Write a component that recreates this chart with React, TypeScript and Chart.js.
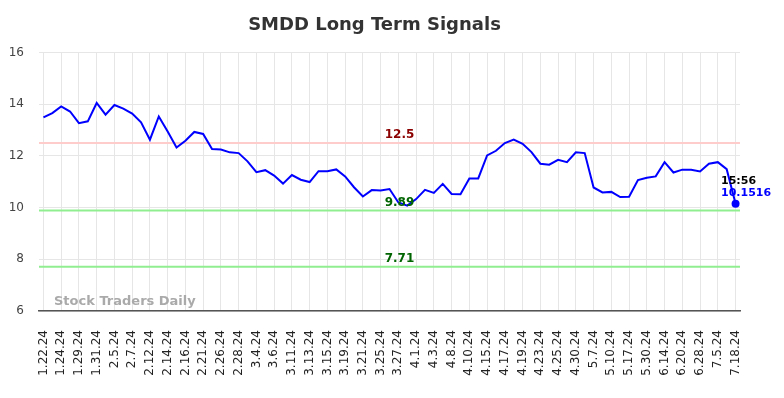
import React, { useEffect, useRef } from "react";
import { Chart, registerables } from "chart.js";

Chart.register(...registerables);

const title = "SMDD Long Term Signals";

const categories = [
  "1.22.24", "1.23.24", "1.24.24", "1.26.24", "1.29.24", "1.30.24", "1.31.24", "2.1.24",
  "2.5.24", "2.6.24", "2.7.24", "2.8.24", "2.12.24", "2.13.24", "2.14.24", "2.15.24",
  "2.16.24", "2.20.24", "2.21.24", "2.22.24", "2.26.24", "2.27.24", "2.28.24", "2.29.24",
  "3.4.24", "3.5.24", "3.6.24", "3.7.24", "3.11.24", "3.12.24", "3.13.24", "3.14.24",
  "3.15.24", "3.18.24", "3.19.24", "3.20.24", "3.21.24", "3.22.24", "3.25.24", "3.26.24",
  "3.27.24", "3.28.24", "4.1.24", "4.2.24", "4.3.24", "4.5.24", "4.8.24", "4.9.24",
  "4.10.24", "4.12.24", "4.15.24", "4.16.24", "4.17.24", "4.18.24", "4.19.24", "4.22.24",
  "4.23.24", "4.24.24", "4.25.24", "4.26.24", "4.30.24", "5.2.24", "5.7.24", "5.8.24",
  "5.10.24", "5.14.24", "5.17.24", "5.22.24", "5.30.24", "6.6.24", "6.14.24", "6.17.24",
  "6.20.24", "6.25.24", "6.28.24", "7.2.24", "7.5.24", "7.11.24", "7.18.24",
];

const prices = [
  13.49, 13.66, 13.92, 13.72, 13.27, 13.34, 14.05, 13.6,
  13.97, 13.83, 13.64, 13.3, 12.63, 13.53, 12.95, 12.33,
  12.59, 12.93, 12.85, 12.27, 12.25, 12.14, 12.11, 11.79,
  11.37, 11.45, 11.24, 10.93, 11.26, 11.08, 10.99, 11.41,
  11.41, 11.48, 11.21, 10.79, 10.43, 10.68, 10.66, 10.72,
  10.2, 10.08, 10.33, 10.69, 10.57, 10.92, 10.53, 10.52,
  11.13, 11.13, 12.02, 12.2, 12.5, 12.63, 12.47, 12.15,
  11.7, 11.66, 11.85, 11.76, 12.14, 12.11, 10.78, 10.59,
  10.61, 10.41, 10.42, 11.07, 11.16, 11.21, 11.76, 11.36,
  11.47, 11.47, 11.4, 11.7, 11.76, 11.49, 10.1516,
];

const resistanceLevels = [12.5];
const supportLevels = [9.89, 7.71];
const lastTime = "15:56";
const lastValueText = "10.1516";
const yTicks = [6, 8, 10, 12, 14, 16];
const watermark = "Stock Traders Daily";

const FONT = "'DejaVu Sans', sans-serif";

const signalsPlugin = {
  id: "signals",
  beforeDatasetsDraw(chart: any) {
    const { ctx, chartArea, scales } = chart;
    const y = scales.y;
    ctx.save();
    const drawLine = (v: number, color: string) => {
      const py = y.getPixelForValue(v);
      ctx.strokeStyle = color;
      ctx.lineWidth = 2;
      ctx.beginPath();
      ctx.moveTo(chartArea.left, py);
      ctx.lineTo(chartArea.right, py);
      ctx.stroke();
    };
    resistanceLevels.forEach((v) => drawLine(v, "rgb(255,204,204)"));
    supportLevels.forEach((v) => drawLine(v, "rgb(144,238,144)"));
    ctx.font = `bold 13px ${FONT}`;
    ctx.fillStyle = "#aaaaaa";
    ctx.textAlign = "left";
    ctx.textBaseline = "middle";
    ctx.fillText(watermark, chartArea.left + 15, chartArea.bottom - 9);
    ctx.restore();
  },
  afterDatasetsDraw(chart: any) {
    const { ctx, chartArea, scales } = chart;
    const y = scales.y;
    const x = scales.x;
    const cx = (chartArea.left + chartArea.right) / 2 + 10;
    ctx.save();
    ctx.font = `bold 12px ${FONT}`;
    ctx.textAlign = "center";
    ctx.textBaseline = "middle";
    resistanceLevels.forEach((v) => {
      ctx.fillStyle = "#8b0000";
      ctx.fillText(String(v), cx, y.getPixelForValue(v) - 8);
    });
    supportLevels.forEach((v) => {
      ctx.fillStyle = "#006400";
      ctx.fillText(String(v), cx, y.getPixelForValue(v) - 8);
    });
    const li = prices.length - 1;
    const px = x.getPixelForValue(li);
    const py = y.getPixelForValue(prices[li]);
    ctx.font = `bold 11px ${FONT}`;
    ctx.textAlign = "left";
    ctx.fillStyle = "#000000";
    ctx.fillText(lastTime, px - 14.5, py - 23);
    ctx.fillStyle = "#0000ff";
    ctx.fillText(lastValueText, px - 14.5, py - 11);
    ctx.beginPath();
    ctx.arc(px, py, 4, 0, Math.PI * 2);
    ctx.fill();
    ctx.restore();
  },
};

export default function App() {
  const ref = useRef<HTMLCanvasElement | null>(null);
  useEffect(() => {
    if (!ref.current) return;
    const chart = new Chart(ref.current, {
      type: "line",
      data: {
        labels: categories,
        datasets: [
          {
            data: prices,
            borderColor: "#0000ff",
            backgroundColor: "#0000ff",
            borderWidth: 2,
            pointRadius: 0,
            tension: 0,
          },
        ],
      },
      options: {
        animation: false,
        responsive: true,
        maintainAspectRatio: false,
        layout: { padding: { left: 1, right: 36, top: 0, bottom: 0 } },
        plugins: {
          legend: { display: false },
          tooltip: { enabled: false },
          title: {
            display: true,
            text: title,
            color: "#333333",
            font: { family: FONT, size: 18, weight: "bold" },
            padding: { top: 7, bottom: 16 },
          },
        },
        scales: {
          x: {
            type: "category",
            offset: true,
            grid: {
              color: "#e6e6e6",
              offset: false,
              drawTicks: true,
              tickLength: 16,
              tickColor: "rgba(0,0,0,0)",
            },
            border: { display: true, color: "#555555", width: 1.5 },
            afterFit: (s: any) => {
              s.height = 65;
            },
            ticks: {
              autoSkip: false,
              maxRotation: 90,
              minRotation: 90,
              padding: 3,
              color: "#222222",
              font: { family: FONT, size: 12 },
              callback: (_v: any, i: number) => (i % 2 === 0 ? categories[i] : null),
            },
          },
          y: {
            min: yTicks[0],
            max: yTicks[yTicks.length - 1],
            grid: { color: "#e6e6e6", drawTicks: false },
            border: { display: false },
            afterFit: (s: any) => {
              s.width = 30;
            },
            ticks: {
              stepSize: 2,
              padding: 15,
              color: "#444444",
              font: { family: FONT, size: 12 },
            },
          },
        },
      },
      plugins: [signalsPlugin],
    });
    return () => chart.destroy();
  }, []);
  return (
    <div style={{ width: 768, height: 368, position: "relative" }}>
      <canvas ref={ref} />
    </div>
  );
}
